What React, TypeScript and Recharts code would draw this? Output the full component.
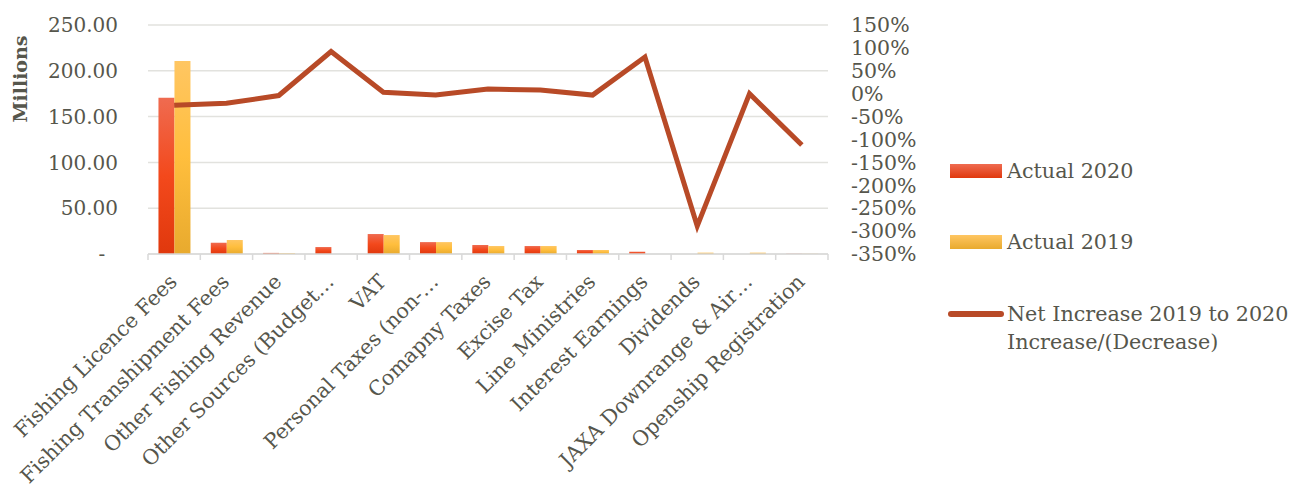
import { ComposedChart, Bar, Line, XAxis, YAxis, CartesianGrid, Label } from 'recharts'

const FONT = '"DejaVu Serif", serif'
const TEXT = '#56564c'

const CATEGORIES = [
  'Fishing Licence Fees',
  'Fishing Transhipment Fees',
  'Other Fishing Revenue',
  'Other Sources (Budget…',
  'VAT',
  'Personal Taxes (non-…',
  'Comapny Taxes',
  'Excise Tax',
  'Line Ministries',
  'Interest Earnings',
  'Dividends',
  'JAXA Downrange & Air…',
  'Openship Registration',
]

// millions
const ACTUAL_2020 = [170.5, 12.3, 1.2, 7.6, 21.8, 13, 9.8, 8.7, 4.4, 2.5, 0, 0, 0.3]
const ACTUAL_2019 = [210.8, 15.3, 1.0, 0, 20.7, 13, 8.7, 8.7, 4.4, 0, 1.5, 1.5, 0.3]
// percent
const NET_CHANGE = [-25, -21, -4, 92, 3, -3, 10, 8, -3, 80, -289, 0, -112]

const LEFT_TICKS = [0, 50, 100, 150, 200, 250]
const RIGHT_TICKS = [-350, -300, -250, -200, -150, -100, -50, 0, 50, 100, 150]

const SERIES_NAMES = ['Actual 2020', 'Actual 2019', 'Net Increase 2019 to 2020', 'Increase/(Decrease)']

const data = CATEGORIES.map((name, i) => ({
  name,
  a2020: ACTUAL_2020[i],
  a2019: ACTUAL_2019[i],
  net: NET_CHANGE[i],
}))

const PLOT_W = 680
const BAND = PLOT_W / CATEGORIES.length
const AXIS_GRAY = '#d9d9d9'

// eslint-disable-next-line @typescript-eslint/no-explicit-any
function CategoryTick({ x, y, payload, index }: any) {
  const last = index === CATEGORIES.length - 1
  const tx = x + 4
  const ty = y + 29
  return (
    <g>
      <line x1={x - BAND / 2} y1={y} x2={x - BAND / 2} y2={y + 6} stroke={AXIS_GRAY} strokeWidth={1.5} />
      {last && (
        <line x1={x + BAND / 2} y1={y} x2={x + BAND / 2} y2={y + 6} stroke={AXIS_GRAY} strokeWidth={1.5} />
      )}
      <text
        x={tx}
        y={ty}
        transform={`rotate(-45 ${tx} ${ty})`}
        textAnchor="end"
        fill={TEXT}
        fontSize={20.6}
        fontFamily={FONT}
      >
        {payload.value}
      </text>
    </g>
  )
}

const legendText = { position: 'absolute' as const, fontFamily: FONT, fontSize: 20.7, color: TEXT, lineHeight: '28px', whiteSpace: 'nowrap' as const }

export default function App() {
  return (
    <div style={{ position: 'absolute', left: 0, top: 0, width: 1291, height: 492, background: '#fff' }}>
      <ComposedChart
        width={1291}
        height={492}
        data={data}
        margin={{ top: 25, right: 0, bottom: 0, left: 0 }}
        barCategoryGap="20%"
        barGap={0}
      >
        <defs>
          <linearGradient id="g2020" x1="0" y1="0" x2="0" y2="1">
            <stop offset="0%" stopColor="#ef6b50" />
            <stop offset="50%" stopColor="#f3491c" />
            <stop offset="100%" stopColor="#e0380d" />
          </linearGradient>
          <linearGradient id="g2019" x1="0" y1="0" x2="0" y2="1">
            <stop offset="0%" stopColor="#ffc662" />
            <stop offset="50%" stopColor="#ffbe3d" />
            <stop offset="100%" stopColor="#e8aa2e" />
          </linearGradient>
        </defs>
        <CartesianGrid yAxisId="left" vertical={false} stroke="#e2e2de" strokeWidth={1.5} />
        <XAxis
          dataKey="name"
          height={238}
          interval={0}
          tickLine={false}
          tickSize={0}
          tickMargin={0}
          axisLine={{ stroke: AXIS_GRAY, strokeWidth: 1.5 }}
          tick={<CategoryTick />}
        />
        <YAxis
          yAxisId="left"
          width={148}
          domain={[0, 250]}
          ticks={LEFT_TICKS}
          interval={0}
          tickFormatter={(v) => (v === 0 ? '-\u00a0\u00a0' : v.toFixed(2))}
          axisLine={false}
          tickLine={false}
          tickSize={0}
          tickMargin={30}
          tick={{ fontSize: 20, fontFamily: FONT, fill: TEXT }}
        >
          <Label
            content={() => (
              <text
                x={27}
                y={79}
                transform="rotate(-90 27 79)"
                textAnchor="middle"
                fontFamily={FONT}
                fontWeight="bold"
                fontSize={19}
                fill={TEXT}
              >
                Millions
              </text>
            )}
          />
        </YAxis>
        <YAxis
          yAxisId="right"
          orientation="right"
          width={463}
          domain={[-350, 150]}
          ticks={RIGHT_TICKS}
          interval={0}
          tickFormatter={(v) => `${v}%`}
          axisLine={false}
          tickLine={false}
          tickSize={0}
          tickMargin={23}
          tick={{ fontSize: 20.5, fontFamily: FONT, fill: TEXT, textAnchor: 'start' }}
        />
        <Bar yAxisId="left" dataKey="a2020" name={SERIES_NAMES[0]} fill="url(#g2020)" isAnimationActive={false} />
        <Bar yAxisId="left" dataKey="a2019" name={SERIES_NAMES[1]} fill="url(#g2019)" isAnimationActive={false} />
        <Line
          yAxisId="right"
          type="linear"
          dataKey="net"
          name={SERIES_NAMES[2]}
          stroke="#b84a27"
          strokeWidth={5}
          strokeLinejoin="miter"
          dot={false}
          activeDot={false}
          isAnimationActive={false}
        />
      </ComposedChart>

      {/* legend */}
      <div style={{ position: 'absolute', left: 950, top: 164, width: 52, height: 14, background: 'linear-gradient(#ef6b50, #e0380d)' }} />
      <div style={{ ...legendText, left: 1007, top: 157 }}>{SERIES_NAMES[0]}</div>
      <div style={{ position: 'absolute', left: 950, top: 235, width: 52, height: 14, background: 'linear-gradient(#ffc662, #e8aa2e)' }} />
      <div style={{ ...legendText, left: 1007, top: 228 }}>{SERIES_NAMES[1]}</div>
      <div style={{ position: 'absolute', left: 948, top: 311, width: 56, height: 6, borderRadius: 3, background: '#b84a27' }} />
      <div style={{ ...legendText, left: 1007, top: 300 }}>
        {SERIES_NAMES[2]}
        <br />
        {SERIES_NAMES[3]}
      </div>
    </div>
  )
}
